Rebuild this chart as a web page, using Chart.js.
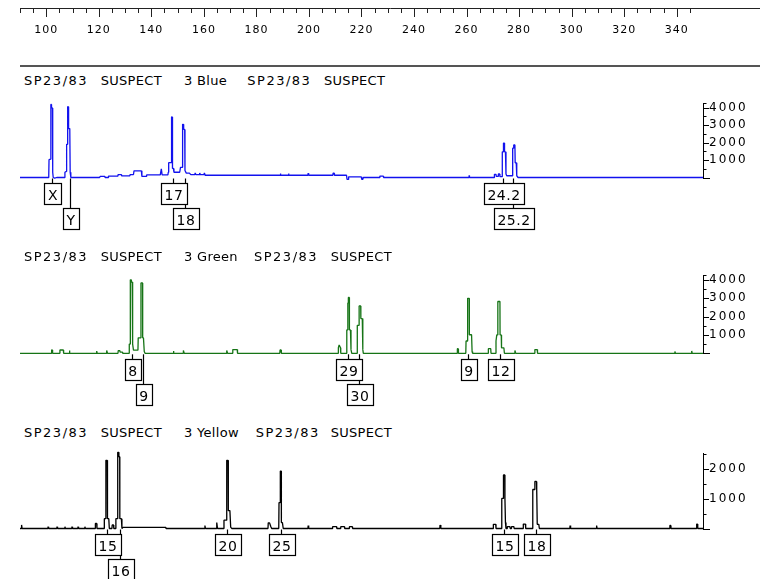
<!DOCTYPE html>
<html><head><meta charset="utf-8">
<script src="https://cdn.jsdelivr.net/npm/chart.js@4.4.1/dist/chart.umd.min.js"></script>
<style>
html,body{margin:0;padding:0;background:#fff;}
#wrap{position:relative;width:760px;height:579px;overflow:hidden;background:#fff;}
canvas{position:absolute;left:0;}
.t{position:absolute;font-family:"DejaVu Sans",sans-serif;font-size:13px;line-height:13px;color:#000;white-space:pre;}
#sep{position:absolute;left:20px;top:65px;width:740px;height:2px;background:#555;}
</style></head><body>
<div id="wrap">
<canvas id="ruler" width="760" height="45" style="top:0px"></canvas>
<div id="sep"></div>
<canvas id="cBlue" width="760" height="150" style="top:90px"></canvas>
<canvas id="cGreen" width="760" height="150" style="top:262px"></canvas>
<canvas id="cYellow" width="760" height="139" style="top:440px"></canvas>
</div>
<script>
// ---------------- DATA ----------------
const sizeMin = 90, sizeMax = 350;
const rulerTicks = [];
for (let v = 90; v <= 345; v += 5) rulerTicks.push(v);

const blueTicks   = [0,500,1000,1500,2000,2500,3000,3500,4000,4250];
const greenTicks  = [0,500,1000,1500,2000,2500,3000,3500,4000,4250];
const yellowTicks = [0,500,1000,1500,2000,2500];

const blueTitle   = [['SP23/83',25],['SUSPECT',101.7],['3 Blue',185],['SP23/83',248.3],['SUSPECT',325]];
const greenTitle  = [['SP23/83',25],['SUSPECT',101.7],['3 Green',185],['SP23/83',255],['SUSPECT',331.7]];
const yellowTitle = [['SP23/83',25],['SUSPECT',101.7],['3 Yellow',185],['SP23/83',256.7],['SUSPECT',331.7]];

// allele calls: [label, size, row]
const blueAlleles   = [['X',102.3,0],['Y',109.0,1],['17',148.3,0],['18',152.7,1],['24.2',273.9,0],['25.2',277.7,1]];
const greenAlleles  = [['8',132.6,0],['9',137.0,1],['29',215.0,0],['30',219.0,1],['9',260.5,0],['12',272.6,0]];
const yellowAlleles = [['15',123.1,0],['16',127.95,1],['20',168.9,0],['25',189.2,0],['15',274.3,0],['18',286.5,0]];

// traces: [size, RFU]
const blueTrace = [
[90,0],[100.7,0],[100.95,150],[101.05,1020],[101.7,1050],[101.75,4180],[101.95,4180],[102.0,3980],[102.35,3980],[102.45,300],[102.65,0],[103.2,-40],[104.0,0],
[106.9,0],[107.1,300],[107.65,350],[107.75,1900],[108.05,1900],[108.15,4050],[108.4,4050],[108.5,2800],[108.95,2800],[109.1,300],[109.35,0],
[120.3,0],[120.5,60],[122.3,60],[122.4,0],[123.6,0],[123.7,80],[127.2,80],[127.3,160],[128.6,160],[128.7,90],[131.8,90],[131.9,170],[133.2,170],[133.4,380],[136.2,380],[136.4,60],[138.0,60],[138.2,150],[143.4,150],[143.8,500],[144.1,150],[146.3,150],
[146.45,300],[146.6,850],[147.6,850],[147.7,3460],[147.95,3460],[148.05,520],[148.4,520],[148.6,300],[150.8,300],
[151.1,580],[151.8,580],[151.9,3040],[152.2,3040],[152.3,2750],[152.7,2750],[152.8,400],[153.3,250],[154.5,250],
[155.0,160],[156.5,160],[156.7,260],[157.0,160],[158.2,160],[158.4,260],[158.7,160],[160.0,160],[160.2,260],[160.5,130],
[189.0,130],[189.1,230],[189.3,130],[192.1,130],[192.2,230],[192.4,130],[199.6,130],[199.7,250],[199.9,130],[209.1,130],[209.2,250],[209.6,250],[209.7,130],
[214.3,130],[214.5,-110],[214.9,-110],[215.1,40],[219.9,40],[220.1,-110],[220.5,-110],[220.7,0],
[226.9,0],[227.0,80],[228.3,80],[228.4,0],[260.9,0],[261.0,120],[261.1,0],
[270.5,0],[270.6,180],[271.2,180],[271.3,60],[272.0,60],[272.1,200],[272.6,200],[272.7,50],[273.5,50],
[273.6,1470],[274.0,1470],[274.05,1970],[274.4,1970],[274.45,1470],[274.8,1470],[275.0,200],[275.3,100],[277.4,100],
[277.55,1680],[277.9,1680],[277.95,1860],[278.4,1860],[278.5,845],[278.9,845],[279.1,100],[279.6,0],[350,0]
];

const greenTrace = [
[90,0],[101.95,0],[102.05,180],[102.3,180],[102.4,0],[105.1,0],[105.2,180],[106.5,180],[106.6,0],[108.7,0],[108.8,150],[109.0,0],
[119.1,0],[119.2,120],[119.4,0],[122.9,0],[123.0,150],[123.3,0],[127.3,0],[127.4,150],[128.0,150],[128.1,60],[129.0,60],[129.1,0],
[131.5,0],[131.6,500],[131.95,500],[132.0,4000],[132.35,4000],[132.4,3880],[132.7,3880],[132.75,500],[133.0,500],[133.2,170],[134.9,170],
[135.0,840],[136.0,840],[136.05,3830],[136.65,3830],[136.7,840],[137.0,840],[137.3,100],[137.6,0],
[148.3,0],[148.4,120],[148.6,0],[152.1,0],[152.2,150],[152.5,0],[168.6,0],[168.7,150],[169.0,0],[170.9,0],[171.0,200],[172.7,200],[172.8,0],
[188.9,0],[189.0,180],[189.4,180],[189.5,0],[211.1,0],[211.2,300],[211.5,450],[212.0,300],[212.1,0],[214.3,0],
[214.4,1270],[214.75,1270],[214.8,2740],[214.95,2740],[215.0,3040],[215.35,3040],[215.4,1270],[215.8,1270],[216.0,200],[216.3,0],[218.3,0],
[218.4,1520],[219.05,1520],[219.1,2580],[219.7,2580],[219.75,1890],[220.3,1890],[220.5,200],[220.7,0],
[256.4,0],[256.5,250],[256.8,250],[256.9,0],[259.7,0],
[259.8,670],[260.35,670],[260.4,2990],[261.0,2990],[261.05,1010],[261.9,1010],[262.1,100],[262.3,0],
[268.2,0],[268.3,250],[269.2,250],[269.3,0],[271.1,0],
[271.2,670],[271.5,1000],[271.85,1000],[271.9,2820],[272.7,2820],[272.75,1000],[273.2,1000],[273.3,300],[274.2,300],[274.4,0],
[278.3,0],[278.4,150],[278.7,0],[285.9,0],[286.0,200],[286.9,200],[287.0,0],[339.2,0],[339.3,100],[339.5,0],[345.6,0],[345.7,130],[345.9,0],[350,0]
];

const yellowTrace = [
[90,0],[90.5,0],[90.6,120],[90.8,0],[100.6,0],[100.7,60],[100.9,0],[104.0,0],[104.1,60],[104.3,0],[107.0,0],[107.1,60],[107.3,0],
[109.7,0],[109.8,60],[110.0,0],[112.0,0],[112.1,60],[112.3,0],[114.6,0],[114.7,60],[114.9,0],
[118.6,0],[118.7,170],[119.2,170],[119.3,0],[122.0,0],
[122.1,330],[122.65,330],[122.7,2290],[123.2,2290],[123.3,330],[123.8,330],[124.0,0],[125.0,0],[125.1,120],[125.6,120],[125.7,0],[126.4,0],
[126.5,330],[127.15,330],[127.2,2560],[127.6,2560],[127.65,2410],[127.95,2410],[128.0,330],[128.6,330],[128.8,0],
[129.2,40],[145.5,40],[145.6,0],[160.3,0],[160.4,100],[160.6,0],[164.8,0],[164.9,200],[165.2,0],[167.55,0],
[167.65,280],[168.65,280],[168.7,2290],[169.2,2290],[169.3,600],[169.9,600],[170.2,50],[170.6,0],
[184.4,0],[184.5,190],[185.0,190],[185.5,60],[185.8,0],[188.5,0],
[188.6,870],[189.05,870],[189.1,1930],[189.45,1930],[189.5,200],[189.9,200],[190.2,0],
[199.6,0],[199.7,100],[199.9,0],[208.9,0],[209.0,60],[210.5,60],[210.6,0],[212.0,0],[212.1,60],[213.5,60],[213.6,0],[215.3,0],[215.4,60],[216.5,60],[216.6,0],
[249.8,0],[249.9,120],[250.2,0],[270.1,0],[270.2,140],[271.1,140],[271.2,0],[273.3,0],
[273.4,1010],[273.95,1010],[274.0,1330],[274.1,1800],[274.55,1800],[274.6,1010],[274.8,200],[275.0,0],[275.4,0],[275.5,60],[276.5,60],[276.6,0],[277.0,0],[277.1,60],[278.0,60],[278.1,0],
[281.5,0],[281.6,150],[282.4,150],[282.5,0],[285.1,0],
[285.2,1310],[285.9,1310],[286.0,1580],[286.6,1580],[286.7,1300],[286.9,140],[287.5,140],[287.7,0],
[299.3,0],[299.4,100],[299.6,0],[309.4,0],[309.5,100],[309.7,0],[337.3,0],[337.4,100],[337.7,100],[337.8,0],[347.5,0],[347.6,150],[347.9,150],[348.0,0],[350,0]
];

// ---------------- LAYOUT / STYLE ----------------
const FONT = '"DejaVu Sans", sans-serif';
const W = 760, PLOT_LEFT = 20, PLOT_RIGHT = 703;
const rulerMax = sizeMax + (W - PLOT_RIGHT) * (sizeMax - sizeMin) / (PLOT_RIGHT - PLOT_LEFT);

// titles
function addTitle(words, top) {
  const wrap = document.getElementById('wrap');
  for (const [txt, x] of words) {
    const s = document.createElement('span');
    s.className = 't';
    s.textContent = txt;
    s.style.left = (x - 1) + 'px';
    s.style.top = top + 'px';
    s.style.letterSpacing = txt.startsWith('SP23') ? '1.5px' : '0.3px';
    wrap.appendChild(s);
  }
}
addTitle(blueTitle, 74.3);
addTitle(greenTitle, 249.7);
addTitle(yellowTitle, 425.7);

// ruler
const rulerPlugin = {
  id: 'rulerTicks',
  beforeDraw(chart) { chart.ctx.letterSpacing = '1px'; },
  afterDraw(chart) {
    const ctx = chart.ctx, x = chart.scales.x, top = chart.chartArea.bottom;
    ctx.save();
    ctx.strokeStyle = '#222'; ctx.lineWidth = 1;
    for (const v of rulerTicks) {
      const px = Math.round(x.getPixelForValue(v)) + 0.5;
      const len = v % 20 === 0 ? 9 : 5;
      ctx.beginPath(); ctx.moveTo(px, top); ctx.lineTo(px, top + len); ctx.stroke();
    }
    ctx.restore();
  }
};
new Chart(document.getElementById('ruler'), {
  type: 'line',
  data: { datasets: [] },
  options: {
    responsive: false, animation: false, events: [],
    layout: { padding: { left: PLOT_LEFT, right: 0, top: 0, bottom: 0 } },
    plugins: { legend: { display: false }, tooltip: { enabled: false } },
    scales: {
      x: {
        type: 'linear', position: 'bottom', min: sizeMin, max: rulerMax,
        afterBuildTicks: s => { s.ticks = rulerTicks.map(v => ({ value: v })); },
        afterFit: s => { s.height = 37; },
        grid: { display: false, drawTicks: false },
        border: { display: true, color: '#222', width: 1 },
        ticks: { autoSkip: false, maxRotation: 0, padding: 16, color: '#000',
                 font: { family: FONT, size: 11 },
                 callback: v => (v % 20 === 0 && v >= 100) ? String(v) : '' }
      },
      y: { display: false, min: 0, max: 1 }
    }
  },
  plugins: [rulerPlugin]
});

// panels
function makePanel(id, trace, color, ticks, ymax, alleles, padTop, padBottom) {
  const plug = {
    id: 'panelDeco',
    beforeDraw(chart) { chart.ctx.letterSpacing = '2px'; },
    afterDraw(chart) {
      const ctx = chart.ctx, x = chart.scales.x, y = chart.scales.y;
      const ax = chart.chartArea.right;
      ctx.save();
      ctx.letterSpacing = '0px';
      ctx.strokeStyle = '#000'; ctx.lineWidth = 1;
      for (const v of ticks) {
        const py = Math.round(y.getPixelForValue(v)) + 0.5;
        const len = v === 0 ? 7 : (v % 1000 === 0 ? 6 : 3.5);
        ctx.beginPath(); ctx.moveTo(ax, py); ctx.lineTo(ax + len, py); ctx.stroke();
      }
      const base = y.getPixelForValue(0);
      ctx.font = '14px ' + FONT;
      ctx.letterSpacing = '0.5px';
      const boxes = alleles.map(([lab, size, row]) => {
        const cx = Math.round(x.getPixelForValue(size)) + 0.5;
        const tw = ctx.measureText(lab).width;
        const w = Math.round(tw + 7);
        const top = Math.round(base + (row === 0 ? 5.5 : 30.5)) + 0.5;
        return { lab, cx, w, top, h: 21 };
      });
      ctx.lineWidth = 1.2;
      for (const b of boxes) {
        ctx.beginPath(); ctx.moveTo(b.cx, base + 1); ctx.lineTo(b.cx, b.top); ctx.stroke();
      }
      for (const b of boxes) {
        const l = Math.round(b.cx - b.w / 2) + 0.5;
        ctx.fillStyle = '#fff';
        ctx.fillRect(l, b.top, b.w, b.h);
        ctx.strokeRect(l, b.top, b.w, b.h);
        ctx.fillStyle = '#000';
        ctx.textAlign = 'center';
        ctx.textBaseline = 'alphabetic';
        ctx.fillText(b.lab, b.cx + 0.5, b.top + 16.3);
      }
      ctx.restore();
    }
  };
  new Chart(document.getElementById(id), {
    type: 'line',
    data: { datasets: [{
      data: trace.map(([s, v]) => ({ x: s, y: v })),
      borderColor: color, borderWidth: 1.3, pointRadius: 0, tension: 0,
      fill: false, clip: false, borderJoinStyle: 'bevel'
    }] },
    options: {
      responsive: false, animation: false, events: [],
      layout: { padding: { left: PLOT_LEFT, right: 0, top: padTop, bottom: padBottom } },
      plugins: { legend: { display: false }, tooltip: { enabled: false } },
      scales: {
        x: { type: 'linear', min: sizeMin, max: sizeMax, display: false },
        y: {
          position: 'right', min: 0, max: ymax,
          afterBuildTicks: s => { s.ticks = ticks.map(v => ({ value: v })); },
          afterFit: s => { s.width = W - PLOT_RIGHT; },
          grid: { display: false, drawTicks: false },
          border: { display: true, color: '#000', width: 1 },
          ticks: { autoSkip: false, padding: 6, color: '#000',
                   font: { family: FONT, size: 12 },
                   callback: v => (v > 0 && v % 1000 === 0) ? String(v) : '' }
        }
      }
    },
    plugins: [plug]
  });
}

makePanel('cBlue', blueTrace, '#1212ee', blueTicks, 4250, blueAlleles, 8.3, 62.5);
makePanel('cGreen', greenTrace, '#167416', greenTicks, 4250, greenAlleles, 7.3, 58.7);
makePanel('cYellow', yellowTrace, '#000000', yellowTicks, 2530, yellowAlleles, 10.7, 50.5);
</script>
</body></html>
